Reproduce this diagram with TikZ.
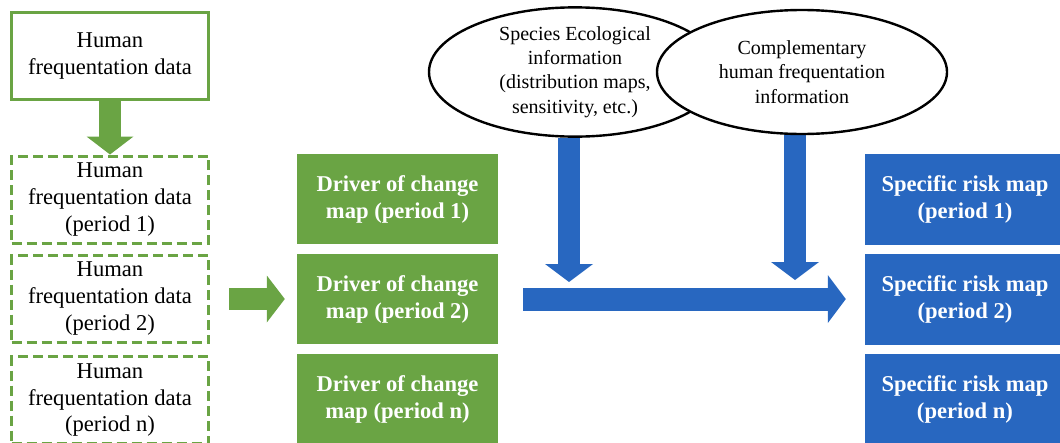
\documentclass[tikz,border=0pt]{standalone}
\usepackage{fontspec}
\setmainfont{Liberation Serif}
\usetikzlibrary{arrows.meta,shapes.geometric,calc,backgrounds}
\definecolor{leaf}{RGB}{106,164,68}
\definecolor{sea}{RGB}{40,103,192}
\begin{document}
\begin{tikzpicture}[x=1pt,y=-1pt,
  every node/.style={inner sep=0pt, align=center},
  bigtext/.style={font=\fontsize{22.6}{27}\selectfont, execute at begin node={\rule{0pt}{20.5pt}}},
  boldtext/.style={font=\fontsize{22.6}{27}\selectfont\bfseries, execute at begin node={\rule{0pt}{19.5pt}}},
  ovaltext/.style={font=\fontsize{20}{24.4}\selectfont, execute at begin node={\rule{0pt}{21pt}}},
  databox/.style={bigtext, draw=leaf, line width=3pt, minimum width=197pt, minimum height=87pt},
  perbox/.style={databox, dash pattern=on 10pt off 5pt},
  drvbox/.style={boldtext, fill=leaf, text=white, minimum width=201pt, minimum height=90pt},
  riskbox/.style={boldtext, fill=sea, text=white, minimum width=200pt, minimum height=91pt},
  oval/.style={ovaltext, ellipse, draw=black, fill=white, line width=2.4pt},
  fatgreen/.style={draw=leaf, line width=22pt, -{Triangle[length=18pt,width=47pt,line width=0pt]}},
  fatblue/.style={draw=sea, line width=23pt, -{Triangle[length=18pt,width=48pt,line width=0pt]}}
]
\useasboundingbox (0,0) rectangle (1060,442);
\clip (0,0) rectangle (1060,442);

% raw data and its split into periods
\node[databox] (src) at (110,56) {Human\\frequentation data};
\node[perbox] (h1) at (110,199.5) {Human\\frequentation data\\(period 1)};
\node[perbox] (h2) at (110,299) {Human\\frequentation data\\(period 2)};
\node[perbox] (h3) at (110,400) {Human\\frequentation data\\(period n)};

% driver of change maps
\node[drvbox] (d1) at (397.5,199) {Driver of change\\map (period 1)};
\node[drvbox] (d2) at (397.5,299) {Driver of change\\map (period 2)};
\node[drvbox] (d3) at (397.5,399) {Driver of change\\map (period n)};

% specific risk maps
\node[riskbox] (r1) at (965,199) {Specific risk map\\(period 1)};
\node[riskbox] (r2) at (965,299) {Specific risk map\\(period 2)};
\node[riskbox] (r3) at (965,399) {Specific risk map\\(period n)};

% additional information sources (the second one overlaps the first)
\node[oval, minimum width=292pt, minimum height=117pt] (eco) at (575,72)
  {Species Ecological\\information\\(distribution maps,\\sensitivity, etc.)};
\node[oval, minimum width=290pt, minimum height=124pt] (comp) at (802,72)
  {Complementary\\human frequentation\\information};

% block arrows
\draw[fatgreen] (src.south) -- (h1.north);
\draw[fatgreen, shorten <=19pt, shorten >=12pt] (h2.east) -- (d2.west);
\draw[fatblue, shorten <=25pt, shorten >=19pt] (d2.east) -- (r2.west);

% downward arrows start behind the ellipses
\coordinate (t1) at (569,282);
\coordinate (t2) at (795,280);
\begin{pgfonlayer}{background}
\draw[fatblue, line width=22pt] (t1 |- eco.south) -- (t1);
\draw[fatblue, line width=22pt] (t2 |- comp.south) -- (t2);
\end{pgfonlayer}
\end{tikzpicture}
\end{document}
